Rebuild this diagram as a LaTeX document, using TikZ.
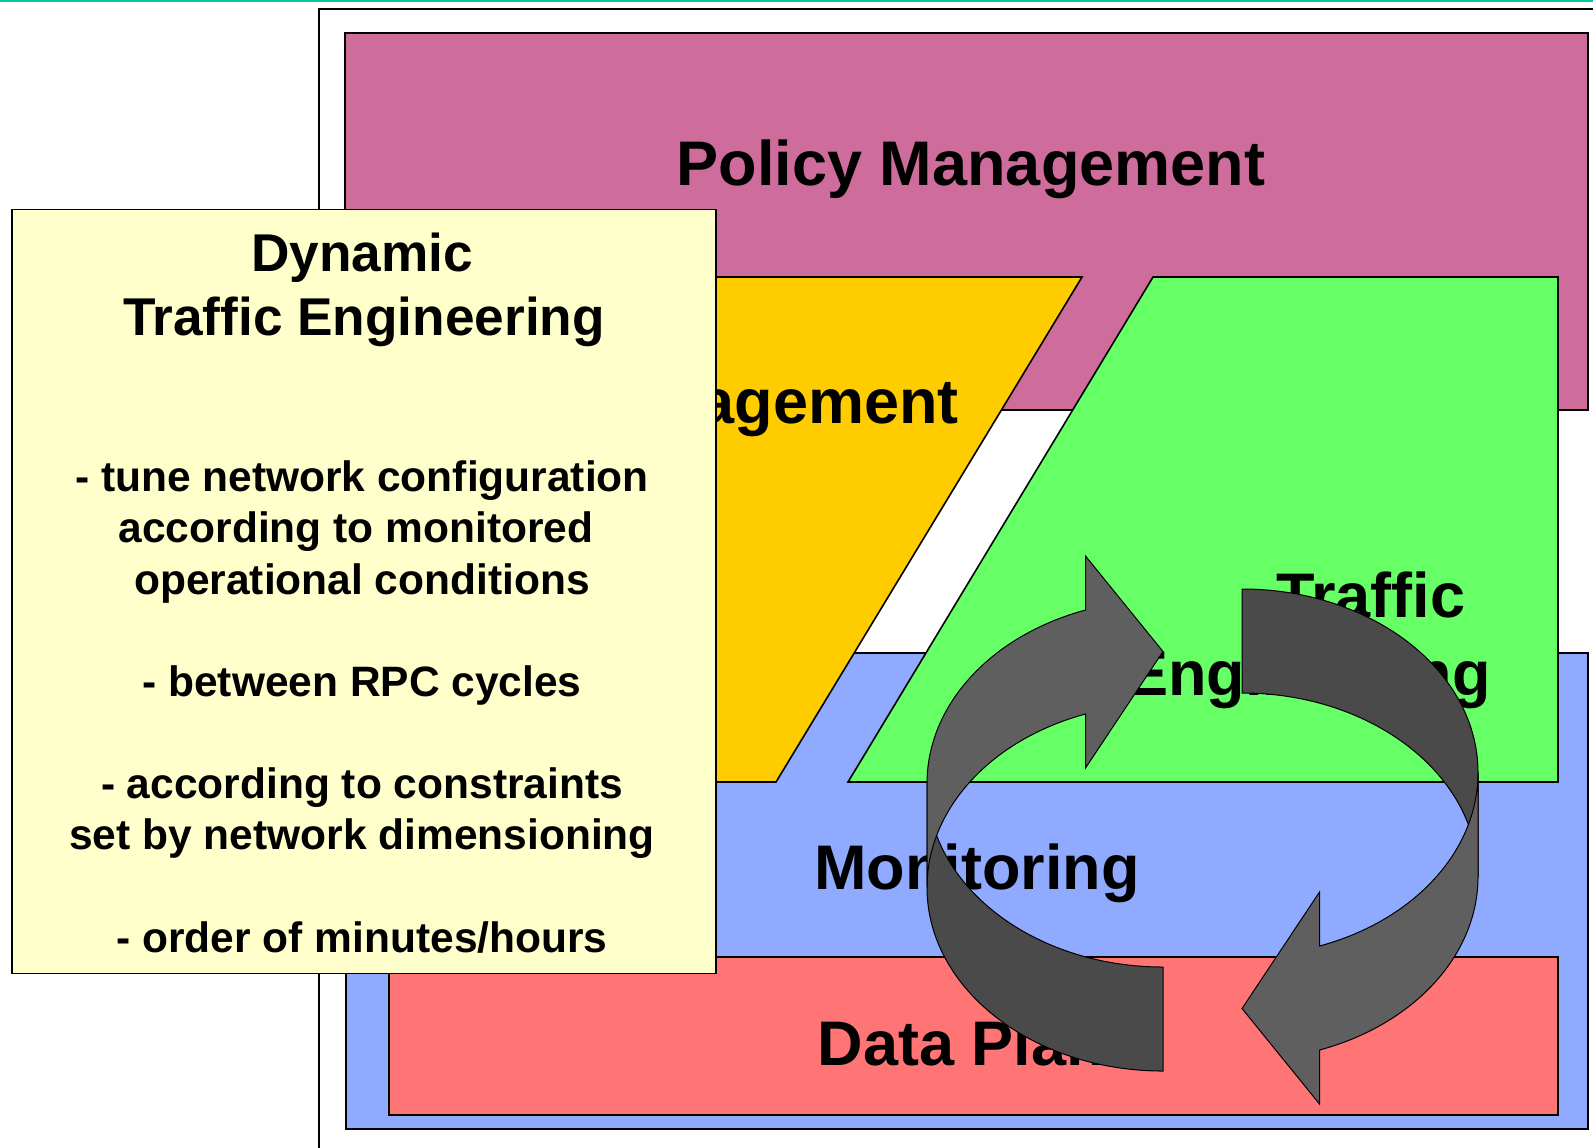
\documentclass[tikz,border=0pt]{standalone}
\usepackage{fontspec}
\setmainfont{Liberation Sans}
\definecolor{tealline}{HTML}{00C8A0}
\definecolor{policypink}{HTML}{CE6C9C}
\definecolor{mgmtorange}{HTML}{FFCC00}
\definecolor{tegreen}{HTML}{66FF66}
\definecolor{monblue}{HTML}{8FAAFF}
\definecolor{datared}{HTML}{FF7575}
\definecolor{infoyellow}{HTML}{FFFFCC}
\definecolor{arrowlight}{HTML}{5F5F5F}
\definecolor{arrowdark}{HTML}{4A4A4A}
\begin{document}
\begin{tikzpicture}[x=0.5pt, y=-0.5pt,
    layer/.style={draw=black, line width=0.8pt},
    biglabel/.style={font=\fontsize{31.5}{37}\selectfont\bfseries, inner sep=0pt},
    titletext/.style={font=\fontsize{26.6}{32}\selectfont\bfseries, inner sep=0pt},
    bodytext/.style={font=\fontsize{21.25}{25.6}\selectfont\bfseries, inner sep=0pt},
    arrowedge/.style={draw=black, line width=0.5pt}]
    \useasboundingbox (0,0) rectangle (1593,1147);
    \clip (0,0) rectangle (1593,1147);
    % top line and frame
    \draw[tealline, line width=1pt] (0,1) -- (1593,1);
    \draw[line width=1pt] (319,1160) -- (319,9) -- (1600,9);
    % layers
    \draw[layer, fill=policypink] (345,33) rectangle (1588,410);
    \draw[layer, fill=monblue] (346,653) rectangle (1588,1129);
    \draw[layer, fill=datared] (389,957) rectangle (1558,1115);
    \draw[layer, fill=mgmtorange] (389,277) -- (1082,277) -- (776,782) -- (389,782) -- cycle;
    \draw[layer, fill=tegreen] (1153,277) -- (1558,277) -- (1558,782) -- (848,782) -- cycle;
    \node[biglabel, anchor=base] (policy) at (971,185) {Policy Management};
    \node[biglabel, anchor=base east] (mgmt) at (959,423) {Management};
    \node[biglabel, anchor=base west] (te1) at (1276,617) {Traffic};
    \node[biglabel, anchor=base west] (te2) at (1126,695) {Engineering};
    \node[biglabel, anchor=base] (mon) at (977,889) {Monitoring};
    \node[biglabel, anchor=base] (data) at (979,1065) {Data Plane};
    % info box
    \node[layer, fill=infoyellow, minimum width=352pt, minimum height=382pt, inner sep=0pt] (info) at (364,591.5) {};
    \node[titletext, anchor=base] (dyn) at (362,271.7) {Dynamic};
    \node[titletext, anchor=base] (dte) at (364,335) {Traffic Engineering};
    \foreach \i/\dx/\txt in {0/0/{- tune network configuration}, 1/-6/{according to monitored}, 2/0/{operational conditions},
        4/0/{- between RPC cycles}, 6/0/{- according to constraints}, 7/0/{set by network dimensioning},
        9/0/{- order of minutes/hours}}
        \node[bodytext, anchor=base] (line\i) at ({362+\dx},{491.7+51.15*\i}) {\txt};
    % cycle arrows
    \foreach \rot in {0,180} {
        \begin{scope}[rotate around={\rot:(1202.5,830)}]
            \filldraw[arrowedge, fill=arrowdark] (927,887.4) arc[start angle=180, end angle=90, x radius=236, y radius=183.6]
                -- (1163,967) arc[start angle=90, end angle=180, x radius=236, y radius=183.6] -- cycle;
            \filldraw[arrowedge, fill=arrowlight] (927,783.4) arc[start angle=180, end angle=250.83, x radius=236, y radius=183.6]
                -- (1085.5,556) -- (1163,651.5) -- (1085.5,768) -- (1085.5,714)
                arc[start angle=250.83, end angle=180, x radius=236, y radius=183.6] -- cycle;
        \end{scope}
    }
\end{tikzpicture}
\end{document}
